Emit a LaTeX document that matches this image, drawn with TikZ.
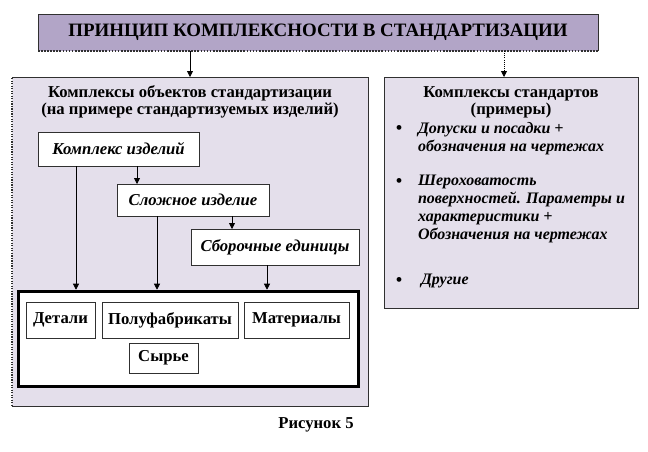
\documentclass[tikz,border=0pt]{standalone}
\usepackage{fontspec}
\setmainfont{Liberation Serif}
\usetikzlibrary{arrows.meta}
\definecolor{titlefill}{HTML}{B2A5C7}
\definecolor{panelfill}{HTML}{E4DFEB}
\definecolor{edge}{HTML}{303030}
\tikzset{
  every node/.style={inner sep=0pt, outer sep=0pt},
  itembox/.style={draw=edge, line width=0.75pt, fill=white, font=\fontsize{12.5}{13.5}\selectfont\bfseries\itshape},
  plainbox/.style={draw=edge, line width=0.75pt, fill=white, font=\fontsize{12.5}{13.5}\selectfont\bfseries},
  arr/.style={draw=black, line width=0.6pt, -{Triangle[length=4.5pt,width=4.5pt]}},
  txt/.style={font=\fontsize{12.5}{13}\selectfont\bfseries, align=center},
  itxt/.style={font=\fontsize{12}{13.5}\selectfont\bfseries\itshape, align=left, anchor=north west},
  bullet/.style={font=\fontsize{15}{15}\selectfont},
}
\begin{document}
\begin{tikzpicture}[x=0.75pt, y=-0.75pt]
\useasboundingbox (0,0) rectangle (648,451);
% title
\node[fill=titlefill, minimum width=420pt, minimum height=27.75pt, font=\fontsize{14.2}{16}\selectfont\bfseries] (title) at (318,32.5) {ПРИНЦИП КОМПЛЕКСНОСТИ В СТАНДАРТИЗАЦИИ};
\draw[edge, line width=0.75pt] (title.south west) -- (title.north west) -- (title.north east) -- (title.south east);
\draw[edge, line width=1.3pt, densely dotted] (title.south west) -- (title.south east);
% left panel
\node[fill=panelfill, minimum width=267pt, minimum height=246.75pt] (leftbox) at (190,241.5) {};
\draw[edge, line width=0.75pt] (leftbox.north west) -- (leftbox.north east) -- (leftbox.south east) -- (leftbox.south west);
\draw[edge, line width=0.9pt, densely dotted] (leftbox.south west) -- (leftbox.north west);
\node[txt] (lhead) at (190,102) {Комплексы объектов стандартизации\\(на примере стандартизуемых изделий)};
% right panel
\node[fill=panelfill, draw=edge, line width=0.75pt, minimum width=190.5pt, minimum height=173.25pt] (rightbox) at (511,192.5) {};
\node[txt] (rhead) at (511,102) {Комплексы стандартов\\(примеры)};
\node[bullet] (b1) at (399,130) {•};
\node[itxt] (t1) at (418,122) {Допуски и посадки +\\обозначения на чертежах};
\node[bullet] (b2) at (399,183) {•};
\node[itxt] (t2) at (418,175) {Шероховатость\\поверхностей. Параметры и\\характеристики +\\Обозначения на чертежах};
\node[bullet] (b3) at (399,282) {•};
\node[itxt] (t3) at (421,274) {Другие};
% items
\node[itembox, minimum width=120.75pt, minimum height=25.5pt] (komplex) at (118.5,149) {Комплекс изделий};
\node[itembox, minimum width=114pt, minimum height=24pt] (slozh) at (193,200) {Сложное изделие};
\node[itembox, minimum width=126pt, minimum height=27pt] (sbor) at (275,247) {Сборочные единицы};
% thick box
\node[draw=black, line width=2.4pt, fill=white, minimum width=255pt, minimum height=71.5pt, outer sep=1.2pt] (thick) at (188.5,339) {};
\node[plainbox, minimum width=51.75pt, minimum height=27pt] (detali) at (60.5,320) {Детали};
\node[plainbox, minimum width=102pt, minimum height=27pt] (polu) at (170,320) {Полуфабрикаты};
\node[plainbox, minimum width=78.75pt, minimum height=27pt] (mater) at (296.5,320) {Материалы};
\node[plainbox, minimum width=51.75pt, minimum height=22.5pt] (syr) at (163.5,358) {Сырье};
% caption
\node[font=\fontsize{12.5}{13.5}\selectfont\bfseries] (cap) at (316,425) {Рисунок 5};
% connectors
\coordinate (xr) at (504,0);
\coordinate (x137) at (137,0);
\coordinate (x232) at (232,0);
\coordinate (x76) at (76,0);
\coordinate (x157) at (157,0);
\coordinate (x267) at (267,0);
\draw[arr] (title.south -| leftbox.north) -- (leftbox.north);
\draw[arr, densely dotted] (title.south -| xr) -- (rightbox.north -| xr);
\draw[arr] (komplex.south -| x137) -- (slozh.north -| x137);
\draw[arr] (slozh.south -| x232) -- (sbor.north -| x232);
\draw[arr] (komplex.south -| x76) -- (thick.north -| x76);
\draw[arr] (slozh.south -| x157) -- (thick.north -| x157);
\draw[arr] (sbor.south -| x267) -- (thick.north -| x267);
\end{tikzpicture}
\end{document}
